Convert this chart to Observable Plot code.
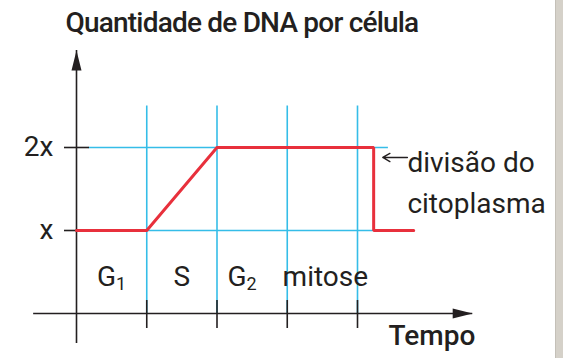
<!DOCTYPE html>
<html>
<head>
<meta charset="utf-8">
<script src="https://cdn.jsdelivr.net/npm/d3@7"></script>
<script src="https://cdn.jsdelivr.net/npm/@observablehq/plot@0.6"></script>
<style>
  html, body { margin: 0; padding: 0; background: #fff; }
  #wrap { position: relative; width: 563px; height: 358px; overflow: hidden; }
  #edge { position: absolute; left: 555px; top: 0; width: 8px; height: 358px; background: #d5d1c9; border-left: 1px solid #c4c0b8; }
</style>
</head>
<body>
<div id="wrap"><div id="edge"></div></div>
<script>
// ---- data ----
const titleText = "Quantidade de DNA por célula";
const xAxisLabel = "Tempo";
const phases = ["G₁", "S", "G₂", "mitose"];
const phaseMid = [0.5, 1.5, 2.5, 3.5];
const boundaries = [1, 2, 3, 4];
const levelValues = [1, 2];
const levelLabels = ["x", "2x"];
const dnaTime = [0, 1, 2, 4.23, 4.23, 4.8];
const dnaAmount = [1, 1, 2, 2, 1, 1];
const annotationText = "divisão do\ncitoplasma";
const divisionTime = 4.23;

// axis / guide extents (data units)
const xAxisFrom = -0.61, xAxisTo = 5.64;
const yAxisFrom = -0.36, yAxisTo = 3.17;
const gridTop = 2.5;
const upperGuide = [0.18, 4.44];
const annotationArrowX = [4.71, 4.36];
const annotationY = 1.88;

const blue = "#35bde8";
const red = "#e8303c";
const ink = "#231f20";
const font = "Roboto";

const arrowHead = {
  draw(ctx) {
    ctx.moveTo(0, 0);
    ctx.lineTo(5, 20);
    ctx.lineTo(-5, 20);
    ctx.closePath();
  }
};

const idx = d3.range(dnaTime.length);
const phaseIdx = d3.range(phases.length);
const txt = { fontSize: 28, fontWeight: 400, fill: ink };

const chart = Plot.plot({
  width: 555,
  height: 358,
  marginLeft: 76,
  marginBottom: 45,
  marginTop: 0,
  marginRight: 0,
  style: { fontFamily: font, color: ink, background: "transparent", overflow: "visible" },
  x: { domain: [0, 4], range: [76, 357] },
  y: { domain: [0, 2], range: [313, 147] },
  marks: [
    // blue guide lines
    Plot.ruleX(boundaries, { y1: 0, y2: gridTop, stroke: blue, strokeWidth: 1.6 }),
    Plot.ruleY([levelValues[1]], { x1: upperGuide[0], x2: upperGuide[1], stroke: blue, strokeWidth: 1.6 }),
    Plot.ruleY([levelValues[0]], { x1: 0, x2: divisionTime, stroke: blue, strokeWidth: 1.6 }),
    // axes
    Plot.ruleX([0], { y1: yAxisFrom, y2: yAxisTo, stroke: ink, strokeWidth: 1.6 }),
    Plot.ruleY([0], { x1: xAxisFrom, x2: xAxisTo, stroke: ink, strokeWidth: 1.6 }),
    Plot.dot([0], { x: 0, y: yAxisTo, symbol: arrowHead, fill: ink, stroke: null }),
    Plot.dot([0], { x: xAxisTo, y: 0, symbol: arrowHead, rotate: 90, fill: ink, stroke: null }),
    Plot.axisY({
      ticks: levelValues, tickFormat: (d) => levelLabels[levelValues.indexOf(d)],
      tickSize: 25, dx: 13, tickPadding: 11, fontSize: 28, fontWeight: 400, stroke: ink, strokeWidth: 1.6,
      fill: ink, label: null
    }),
    Plot.axisX({
      ticks: boundaries, tickFormat: () => "", tickSize: 28, dy: -13,
      stroke: ink, strokeWidth: 1.6, label: null
    }),
    // DNA amount
    Plot.line(idx, { x: (i) => dnaTime[i], y: (i) => dnaAmount[i], stroke: red, strokeWidth: 3, strokeLinejoin: "miter" }),
    // phase labels
    Plot.text(phaseIdx.slice(0, 2), { x: (i) => phaseMid[i], y: 0, text: (i) => phases[i], dy: -36, ...txt }),
    Plot.text([2], { x: (i) => phaseMid[i], y: 0, text: (i) => phases[i], dy: -36, dx: -10, ...txt }),
    Plot.text([3], { x: (i) => phaseMid[i], y: 0, text: (i) => phases[i], dy: -36, dx: 3, ...txt }),
    // annotation
    Plot.arrow([0], { x1: annotationArrowX[0], x2: annotationArrowX[1], y1: annotationY, y2: annotationY, bend: 0, headLength: 9, stroke: ink, strokeWidth: 1.4, inset: 0 }),
    Plot.text([annotationText], { x: 4.71, y: 2, text: (d) => d, textAnchor: "start", lineAnchor: "top", dy: -4, lineHeight: 1.45, ...txt }),
    // x-axis title
    Plot.text([xAxisLabel], { x: 5.06, y: 0, text: (d) => d, dy: 23, ...txt, fontWeight: 500 }),
    // chart title
    Plot.text([titleText], { frameAnchor: "top-left", text: (d) => d, textAnchor: "start", lineAnchor: "top", dx: -11, dy: 12, ...txt, fontWeight: 500 })
  ]
});

// typographic touches: real subscripts and tighter letter spacing
const svg = d3.select(chart);
svg.selectAll("text").each(function () {
  const t = this.textContent;
  const m = t.match(/^G([₁₂])$/);
  if (m) {
    const sub = m[1] === "₁" ? "1" : "2";
    const el = d3.select(this);
    el.text("");
    el.append("tspan").text("G");
    el.append("tspan").attr("font-size", 18).attr("dy", "0.22em").text(sub);
  }
  if (t === titleText) d3.select(this).attr("letter-spacing", "-0.8px");
});
document.getElementById("wrap").prepend(chart);
</script>
</body>
</html>
